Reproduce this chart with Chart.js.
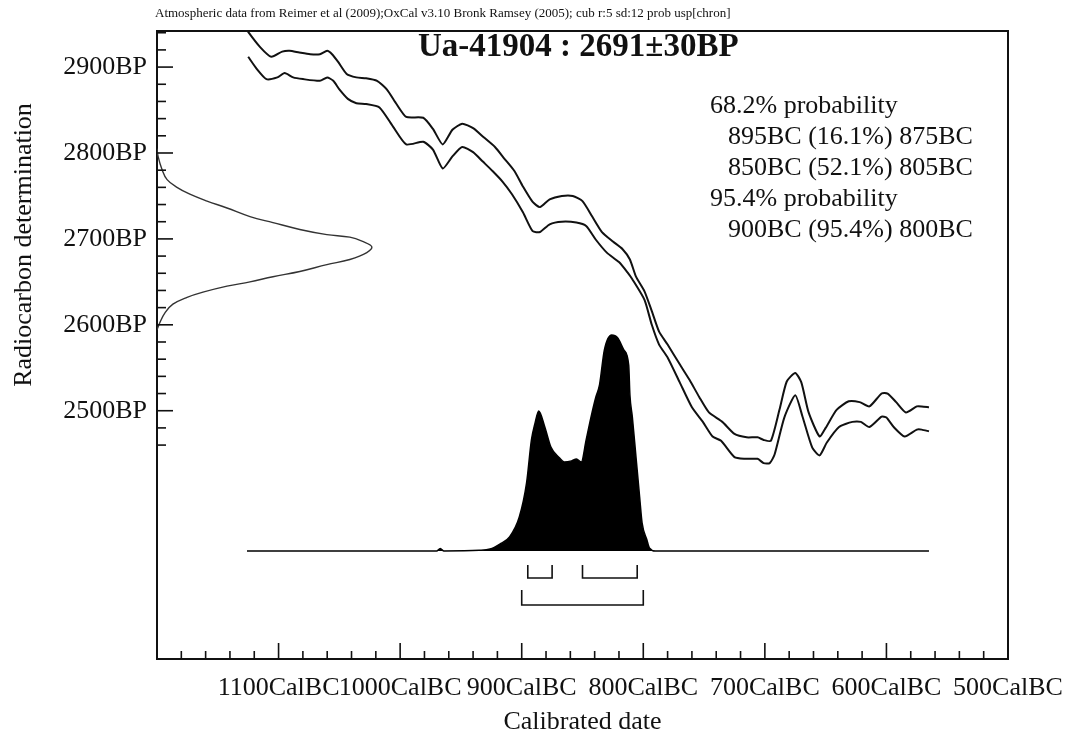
<!DOCTYPE html>
<html><head><meta charset="utf-8">
<style>html,body{margin:0;padding:0;background:#fff;overflow:hidden}canvas{display:block}</style>
<script src="https://cdn.jsdelivr.net/npm/chart.js@4.4.1/dist/chart.umd.min.js"></script>
</head><body>
<canvas id="c" width="1067" height="747"></canvas>
<script>
// ---- calibration curve (IntCal09), upper and lower envelope ----
const upperYears = [1129,1125,1115,1106,1097,1091,1083,1074,1066,1060,1056,1051,1044,1036,1028,1019,1011,1003,995,981,973,965,957,949,940,931,922,914,906,899,891,885,877,867,858,850,842,834,825,817,811,806,799,793,787,780,770,762,754,746,735,725,715,706,701,695,688,682,675,670,664,655,650,641,631,622,614,604,599,592,584,575,571,565];
const upperBP = [2950,2941,2923,2912,2918,2919,2917,2915,2915,2919,2915,2906,2892,2888,2887,2884,2874,2857,2842,2841,2828,2810,2827,2834,2829,2818,2807,2793,2779,2761,2743,2737,2746,2750,2750,2744,2726,2708,2697,2688,2676,2656,2639,2616,2592,2577,2554,2536,2516,2498,2487,2473,2469,2469,2466,2465,2501,2534,2544,2533,2498,2470,2480,2501,2511,2510,2505,2520,2520,2510,2498,2505,2505,2504];
const lowerYears = [1125,1118,1110,1101,1095,1088,1080,1066,1060,1055,1050,1043,1036,1028,1017,1006,995,981,973,965,957,949,940,932,924,916,908,899,891,885,877,867,855,847,839,830,820,813,809,799,793,787,780,770,760,751,743,736,725,717,706,701,696,692,684,675,669,661,655,649,639,628,621,614,604,600,594,585,575,571,565];
const lowerBP = [2912,2898,2886,2888,2893,2888,2886,2884,2888,2884,2874,2863,2858,2857,2853,2831,2810,2813,2804,2782,2796,2807,2801,2790,2779,2767,2752,2731,2709,2708,2717,2720,2719,2715,2699,2684,2673,2661,2653,2629,2600,2577,2562,2533,2504,2487,2470,2465,2446,2444,2444,2439,2439,2449,2492,2518,2493,2457,2448,2463,2481,2487,2487,2481,2493,2492,2481,2470,2478,2478,2476];

// ---- radiocarbon measurement 2691±30BP (relative density along the BP axis) ----
const dateBP = [2805,2796,2781,2769,2760,2752,2744,2736,2726,2719,2711,2705,2702,2697,2691,2684,2676,2670,2662,2656,2650,2645,2638,2632,2624,2614,2603,2594];
const dateDensity = [0,0.005,0.023,0.047,0.093,0.153,0.233,0.326,0.433,0.540,0.665,0.791,0.898,0.958,1.0,0.977,0.898,0.791,0.665,0.540,0.433,0.326,0.214,0.140,0.074,0.037,0.014,0];

// ---- calibrated probability distribution (relative) ----
const calYears = [1126,970,967,964,935,926,918,910,902,896,892,889,886,881,876,869,865,859,855,851,847,843,839,836,832,826,821,816,812,811,809,806,803,801,797,795,790,565];
const calProb = [0,0,0.012,0,0.003,0.009,0.032,0.065,0.157,0.315,0.514,0.593,0.648,0.574,0.481,0.431,0.412,0.417,0.426,0.412,0.514,0.620,0.713,0.769,0.931,1.0,0.986,0.931,0.861,0.722,0.620,0.435,0.25,0.130,0.051,0.014,0,0];

// ---- ranges ----
const range68From = [895, 850];
const range68To = [875, 805];
const range95From = [900];
const range95To = [800];

// ---- ticks ----
const xTickValues = [1180,1160,1140,1120,1100,1080,1060,1040,1020,1000,980,960,940,920,900,880,860,840,820,800,780,760,740,720,700,680,660,640,620,600,580,560,540,520,500];
const xLabelValues = [1100,1000,900,800,700,600,500];
const yTickValues = [2460,2480,2500,2520,2540,2560,2580,2600,2620,2640,2660,2680,2700,2720,2740,2760,2780,2800,2820,2840,2860,2880,2900,2920,2940];
const yLabelValues = [2500,2600,2700,2800,2900];

// ---- texts ----
const headerText = 'Atmospheric data from Reimer et al (2009);OxCal v3.10 Bronk Ramsey (2005); cub r:5 sd:12 prob usp[chron]';
const titleText = 'Ua-41904 : 2691±30BP';
const probLines = ['68.2% probability','895BC (16.1%) 875BC','850BC (52.1%) 805BC','95.4% probability','900BC (95.4%) 800BC'];
const probIndent = [false,true,true,false,true];

const FONT = '"Liberation Serif", "Times New Roman", serif';
const INK = '#111';

const oxcalPlugin = {
  id: 'oxcal',
  afterDraw(chart) {
    const {ctx, chartArea: a, scales} = chart;
    const xs = scales.x, ys = scales.y, yp = scales.yp;
    ctx.save();
    ctx.strokeStyle = INK;
    ctx.lineCap = 'butt';
    // frame (top and right sides)
    ctx.lineWidth = 2;
    ctx.beginPath();
    ctx.moveTo(a.left, a.top); ctx.lineTo(a.right, a.top); ctx.lineTo(a.right, a.bottom);
    ctx.stroke();
    // inward tick marks
    ctx.lineWidth = 1.6;
    xTickValues.forEach(v => {
      const px = xs.getPixelForValue(v);
      const len = xLabelValues.includes(v) ? 16 : 8;
      ctx.beginPath(); ctx.moveTo(px, a.bottom); ctx.lineTo(px, a.bottom - len); ctx.stroke();
    });
    yTickValues.forEach(v => {
      const py = ys.getPixelForValue(v);
      const len = yLabelValues.includes(v) ? 16 : 9;
      ctx.beginPath(); ctx.moveTo(a.left, py); ctx.lineTo(a.left + len, py); ctx.stroke();
    });
    // range brackets under the distribution
    const base = yp.getPixelForValue(0);
    ctx.lineWidth = 1.6;
    const bracket = (from, to, top, bottom) => {
      const x1 = xs.getPixelForValue(from), x2 = xs.getPixelForValue(to);
      ctx.beginPath();
      ctx.moveTo(x1, base + top); ctx.lineTo(x1, base + bottom);
      ctx.lineTo(x2, base + bottom); ctx.lineTo(x2, base + top);
      ctx.stroke();
    };
    range68From.forEach((f, i) => bracket(f, range68To[i], 14, 27));
    range95From.forEach((f, i) => bracket(f, range95To[i], 39, 54));
    // texts
    ctx.fillStyle = INK;
    ctx.textAlign = 'left';
    ctx.textBaseline = 'middle';
    ctx.font = '13px ' + FONT;
    ctx.fillText(headerText, 155, 14);
    ctx.font = 'bold 33px ' + FONT;
    ctx.fillText(titleText, 418, 47);
    ctx.font = '26px ' + FONT;
    probLines.forEach((t, i) => {
      ctx.fillText(t, probIndent[i] ? 728 : 710, 106 + i * 31);
    });
    ctx.translate(24, 245);
    ctx.rotate(-Math.PI / 2);
    ctx.textAlign = 'center';
    ctx.font = '26px ' + FONT;
    ctx.fillText('Radiocarbon determination', 0, 0);
    ctx.restore();
  }
};

new Chart(document.getElementById('c'), {
  type: 'line',
  data: {
    datasets: [
      { label: 'IntCal09 upper', data: upperYears.map((x, i) => ({x, y: upperBP[i]})), xAxisID: 'x', yAxisID: 'y',
        borderColor: INK, borderWidth: 2, pointRadius: 0, tension: 0.2, fill: false },
      { label: 'IntCal09 lower', data: lowerYears.map((x, i) => ({x, y: lowerBP[i]})), xAxisID: 'x', yAxisID: 'y',
        borderColor: INK, borderWidth: 2, pointRadius: 0, tension: 0.2, fill: false },
      { label: 'Ua-41904', data: dateBP.map((y, i) => ({x: dateDensity[i], y})), xAxisID: 'xd', yAxisID: 'y',
        borderColor: '#333', borderWidth: 1.4, pointRadius: 0, tension: 0.4, fill: false },
      { label: 'Calibrated', data: calYears.map((x, i) => ({x, y: calProb[i]})), xAxisID: 'x', yAxisID: 'yp',
        borderColor: '#000', backgroundColor: '#000', borderWidth: 1.5, pointRadius: 0,
        cubicInterpolationMode: 'monotone', fill: 'origin' }
    ]
  },
  options: {
    responsive: false, animation: false, devicePixelRatio: 1,
    layout: { padding: { top: 31, right: 59, left: 0, bottom: 0 } },
    plugins: { legend: { display: false }, tooltip: { enabled: false } },
    scales: {
      x: {
        type: 'linear', position: 'bottom', reverse: true, min: 500, max: 1200,
        grid: { display: true, drawOnChartArea: false, drawTicks: false },
        border: { display: true, color: INK, width: 2 },
        ticks: { autoSkip: false, maxRotation: 0, padding: 14, color: INK, font: { family: FONT, size: 26 },
          callback: v => xLabelValues.includes(v) ? v + 'CalBC' : '' },
        afterBuildTicks: s => { s.ticks = xTickValues.map(v => ({value: v})); },
        afterFit: s => { s.height = 88; s.paddingLeft = 0; s.paddingRight = 0; },
        title: { display: true, text: 'Calibrated date', color: INK, font: { family: FONT, size: 26 }, padding: { top: 0, bottom: 9 } }
      },
      y: {
        type: 'linear', position: 'left', min: 2211, max: 2942,
        grid: { display: true, drawOnChartArea: false, drawTicks: false },
        border: { display: true, color: INK, width: 2 },
        ticks: { autoSkip: false, padding: 10, color: INK, font: { family: FONT, size: 26 },
          callback: v => yLabelValues.includes(v) ? v + 'BP' : '' },
        afterBuildTicks: s => { s.ticks = yTickValues.map(v => ({value: v})); },
        afterFit: s => { s.width = 157; s.paddingTop = 0; s.paddingBottom = 0; }
      },
      xd: { type: 'linear', display: false, min: 0, max: 3.963 },
      yp: { type: 'linear', display: false, min: -0.5, max: 2.407 }
    }
  },
  plugins: [oxcalPlugin]
});
</script>
</body></html>
